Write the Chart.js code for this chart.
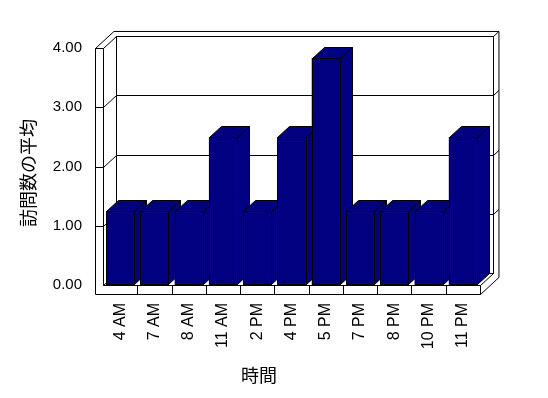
<!DOCTYPE html>
<html>
<head>
<meta charset="utf-8">
<script src="https://cdn.jsdelivr.net/npm/chart.js@4"></script>
<style>
  body { margin: 0; background: #fff; }
  canvas { display: block; }
</style>
</head>
<body>
<canvas id="myChart" width="548" height="398"></canvas>
<script>
// data
const jikan = ["4 AM", "7 AM", "8 AM", "11 AM", "2 PM", "4 PM", "5 PM", "7 PM", "8 PM", "10 PM", "11 PM"];
const heikin = [1.25, 1.25, 1.25, 2.5, 1.25, 2.5, 3.83, 1.25, 1.25, 1.25, 2.5];
const yTicks = [0, 1, 2, 3, 4];
const yTitle = "訪問数の平均";
const xTitle = "時間";

const navy = "#000080";
const DX = 13, DY = -12;     // depth of the box
const K = 1.42;              // outer depth (wall thickness)
const WALL = 8, FLOOR = 9;
const BDX = 12, BDY = -11;   // depth of a bar

function line(ctx, x1, y1, x2, y2) {
  ctx.beginPath();
  ctx.moveTo(x1, y1);
  ctx.lineTo(x2, y2);
  ctx.stroke();
}

function poly(ctx, pts, fill) {
  ctx.beginPath();
  ctx.moveTo(pts[0][0], pts[0][1]);
  for (let i = 1; i < pts.length; i++) ctx.lineTo(pts[i][0], pts[i][1]);
  ctx.closePath();
  if (fill) { ctx.fillStyle = fill; ctx.fill(); }
  ctx.stroke();
}

const box3d = {
  id: "box3d",
  beforeDatasetsDraw(chart) {
    const ctx = chart.ctx;
    const xs = chart.scales.x, ys = chart.scales.y;
    const L = Math.round(xs.left) + 0.5, R = Math.round(xs.right) + 0.5;
    const T = Math.round(ys.getPixelForValue(4)) + 0.5;
    const B = Math.round(ys.getPixelForValue(0)) + 0.5;
    ctx.save();
    ctx.lineWidth = 1;
    ctx.strokeStyle = "#000";
    // outline of the whole box
    poly(ctx, [
      [L - WALL, T],
      [L - WALL + DX * K, T + DY * K],
      [R + DX * K, T + DY * K],
      [R + DX * K, B + FLOOR + DY * K],
      [R, B + FLOOR],
      [L - WALL, B + FLOOR]
    ], "#fff");
    // back wall
    ctx.strokeRect(L + DX, T + DY, R - L, B - T);
    // left wall
    line(ctx, L, T, L, B);
    line(ctx, L - WALL, T, L, T);
    line(ctx, L, T, L + DX, T + DY);
    line(ctx, L, B, L + DX, B + DY);
    // floor
    line(ctx, L, B, R, B);
    line(ctx, R, B, R + DX, B + DY);
    line(ctx, R, B, R, B + FLOOR);
    line(ctx, R + DX, T + DY, R + DX * K, T + DY * K);
    for (let i = 1; i < jikan.length; i++) {
      const bx = Math.round((xs.getPixelForTick(i - 1) + xs.getPixelForTick(i)) / 2) + 0.5;
      line(ctx, bx, B, bx, B + FLOOR);
    }
    // grid lines
    yTicks.forEach(v => {
      if (v == 0 || v == 4) return;
      const yv = Math.round(ys.getPixelForValue(v)) + 0.5;
      line(ctx, L - WALL, yv, L, yv);
      line(ctx, L, yv, L + DX, yv + DY);
      line(ctx, L + DX, yv + DY, R + DX, yv + DY);
      line(ctx, R + DX, yv + DY, R + DX * K, yv + DY * K);
    });
    ctx.restore();
  },
  afterDatasetsDraw(chart) {
    const ctx = chart.ctx;
    const meta = chart.getDatasetMeta(0);
    ctx.save();
    ctx.lineWidth = 1;
    ctx.strokeStyle = "#000";
    meta.data.forEach(bar => {
      const p = bar.getProps(["x", "y", "base", "width"], true);
      const l = Math.round(p.x - p.width / 2) + 0.5;
      const r = Math.round(p.x + p.width / 2) + 0.5;
      const top = Math.round(p.y) + 0.5;
      const base = Math.round(p.base) - 0.5;
      poly(ctx, [[r, top], [r + BDX, top + BDY], [r + BDX, base + BDY], [r, base]], navy);
      poly(ctx, [[l, top], [l + BDX, top + BDY], [r + BDX, top + BDY], [r, top]], navy);
      poly(ctx, [[l, top], [r, top], [r, base], [l, base]], navy);
    });
    ctx.restore();
  },
  afterDraw(chart) {
    const ctx = chart.ctx;
    ctx.save();
    ctx.fillStyle = "#000";
    ctx.font = '18px "Noto Sans CJK JP"';
    ctx.textAlign = "center";
    ctx.textBaseline = "middle";
    ctx.fillText(xTitle, 259, 375);
    ctx.translate(28, 173);
    ctx.rotate(-Math.PI / 2);
    ctx.fillText(yTitle, 0, 0);
    ctx.restore();
  }
};

Chart.defaults.color = "#000";
Chart.defaults.font.family = '"Liberation Sans", Arial, sans-serif';

new Chart("myChart", {
  type: "bar",
  data: {
    labels: jikan,
    datasets: [{
      data: heikin,
      backgroundColor: navy,
      borderColor: "#000",
      borderWidth: 0,
      barPercentage: 0.82,
      categoryPercentage: 1
    }]
  },
  options: {
    responsive: false,
    animation: false,
    events: [],
    layout: { padding: { top: 48, right: 68, left: 0, bottom: 0 } },
    plugins: { legend: { display: false }, tooltip: { enabled: false } },
    scales: {
      x: {
        grid: { display: false, drawTicks: false },
        border: { display: false },
        ticks: {
          autoSkip: false,
          minRotation: 90,
          maxRotation: 90,
          padding: 18,
          font: { size: 16 }
        },
        afterFit(scale) { scale.height = 113; }
      },
      y: {
        min: 0,
        max: 4,
        grid: { display: false, drawTicks: false },
        border: { display: false },
        ticks: {
          stepSize: 1,
          padding: 21,
          font: { size: 15 },
          callback: v => v.toFixed(2)
        },
        afterFit(scale) { scale.width = 103; }
      }
    }
  },
  plugins: [box3d]
});
</script>
</body>
</html>
